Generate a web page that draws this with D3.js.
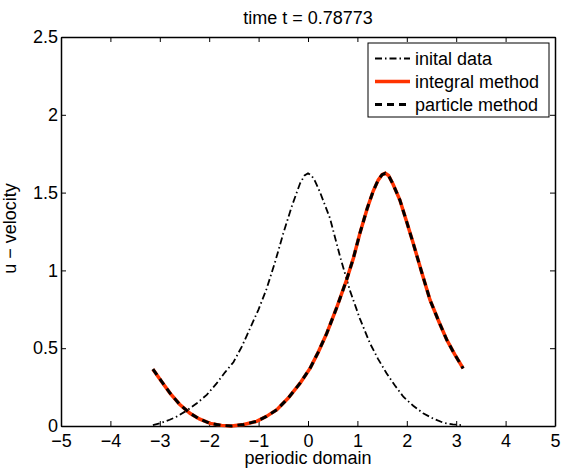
<!DOCTYPE html>
<html>
<head>
<meta charset="utf-8">
<script src="https://cdn.jsdelivr.net/npm/d3@7"></script>
<style>
  body { margin: 0; background: #fff; }
  svg { display: block; font-family: 'Liberation Sans', Arial, Helvetica, sans-serif; }
  .axis text { font-size: 18px; fill: #000; }
  .axis line, .axis path { stroke: #000; }
</style>
</head>
<body>
<svg id="chart" width="561" height="470"></svg>
<script>
'use strict';

// values
const titleText = 'time t = 0.78773';
const xLabel = 'periodic domain';
const yLabel = 'u \u2212 velocity';
const xTicks = [-5, -4, -3, -2, -1, 0, 1, 2, 3, 4, 5];
const yTicks = [0, 0.5, 1, 1.5, 2, 2.5];
const legendNames = ['inital data', 'integral method', 'particle method'];

const initialX = [-3.14, -3.0, -2.8, -2.66, -2.45, -2.25, -2.05, -1.85, -1.68, -1.51, -1.34, -1.17, -1.0, -0.84,
  -0.67, -0.5, -0.33, -0.16, -0.07, 0.0, 0.07, 0.14, 0.24, 0.445, 0.65, 0.85, 1.05, 1.255, 1.42, 1.59, 1.76,
  1.93, 2.13, 2.33, 2.53, 2.74, 2.93, 3.14];
const initialU = [0.005, 0.017, 0.04, 0.06, 0.1, 0.146, 0.2, 0.274, 0.345, 0.41, 0.51, 0.63, 0.75, 0.88,
  1.05, 1.238, 1.41, 1.56, 1.61, 1.624, 1.61, 1.575, 1.505, 1.335, 1.088, 0.87, 0.69, 0.531, 0.43, 0.339, 0.26,
  0.188, 0.13, 0.082, 0.048, 0.021, 0.01, 0.005];

const methodX = [-3.14, -2.95, -2.79, -2.6, -2.39, -2.2, -1.98, -1.75, -1.55, -1.3, -1.04, -0.84, -0.63, -0.4,
  -0.16, 0.04, 0.2, 0.38, 0.58, 0.78, 0.92, 1.05, 1.2, 1.32, 1.42, 1.5, 1.565, 1.63, 1.72, 1.86, 2.0, 2.13,
  2.3, 2.47, 2.65, 2.81, 2.97, 3.14];
const integralU = [0.365, 0.28, 0.21, 0.14, 0.082, 0.045, 0.017, 0.004, 0.0, 0.01, 0.03, 0.062, 0.105, 0.18,
  0.275, 0.37, 0.47, 0.596, 0.76, 0.938, 1.08, 1.238, 1.4, 1.51, 1.58, 1.615, 1.624, 1.61, 1.555, 1.452, 1.31,
  1.174, 0.99, 0.81, 0.67, 0.553, 0.46, 0.37];
const particleU = [0.365, 0.28, 0.21, 0.14, 0.082, 0.045, 0.017, 0.004, 0.0, 0.01, 0.03, 0.062, 0.105, 0.18,
  0.275, 0.37, 0.47, 0.596, 0.76, 0.938, 1.08, 1.238, 1.4, 1.51, 1.58, 1.615, 1.624, 1.61, 1.555, 1.452, 1.31,
  1.174, 0.99, 0.81, 0.67, 0.553, 0.46, 0.37];

const width = 561;
const height = 470;
const margin = { top: 37, right: 6, bottom: 44, left: 61 };
const plotW = width - margin.left - margin.right;
const plotH = height - margin.top - margin.bottom;

// line styles for the three series
const styles = [
  { color: '#000', width: 1.8, dash: '7,3,1.5,3' },
  { color: '#ff3300', width: 3.5, dash: null },
  { color: '#000', width: 3, dash: '7,5' }
];

const svg = d3.select('#chart');
const g = svg.append('g').attr('transform', `translate(${margin.left},${margin.top})`);

const x = d3.scaleLinear().domain([-5, 5]).range([0, plotW]);
const y = d3.scaleLinear().domain([0, 2.5]).range([plotH, 0]);

//Axes, MATLAB style with inward ticks on all four sides
g.append('g')
  .attr('class', 'axis')
  .attr('transform', `translate(0,${plotH})`)
  .call(d3.axisBottom(x).tickValues(xTicks).tickSizeInner(-5).tickSizeOuter(0).tickPadding(8));
g.append('g')
  .attr('class', 'axis')
  .call(d3.axisLeft(y).tickValues(yTicks).tickSizeInner(-5).tickSizeOuter(0).tickPadding(3)
    .tickFormat(d3.format('')));
g.append('g')
  .attr('class', 'axis')
  .call(d3.axisTop(x).tickValues(xTicks).tickSizeInner(-5).tickSizeOuter(0).tickFormat(''));
g.append('g')
  .attr('class', 'axis')
  .attr('transform', `translate(${plotW},0)`)
  .call(d3.axisRight(y).tickValues(yTicks).tickSizeInner(-5).tickSizeOuter(0).tickFormat(''));

g.selectAll('.axis path').attr('stroke-width', 1.5);
g.selectAll('.axis line').attr('stroke-width', 1);
g.selectAll('.axis text').attr('font-family', null).attr('font-size', null);

//Curves
const line = d3.line().x(d => x(d[0])).y(d => y(d[1]));
const series = [
  d3.zip(initialX, initialU),
  d3.zip(methodX, integralU),
  d3.zip(methodX, particleU)
];

series.forEach((data, i) => {
  g.append('path')
    .datum(data)
    .attr('d', line)
    .attr('fill', 'none')
    .attr('stroke', styles[i].color)
    .attr('stroke-width', styles[i].width)
    .attr('stroke-dasharray', styles[i].dash);
});

//Title and labels
svg.append('text')
  .attr('x', margin.left + plotW / 2)
  .attr('y', 24)
  .attr('text-anchor', 'middle')
  .attr('font-size', 18)
  .text(titleText);

svg.append('text')
  .attr('x', margin.left + plotW / 2)
  .attr('y', 464)
  .attr('text-anchor', 'middle')
  .attr('font-size', 18)
  .text(xLabel);

svg.append('text')
  .attr('transform', `translate(16,${margin.top + plotH / 2 - 3}) rotate(-90)`)
  .attr('text-anchor', 'middle')
  .attr('font-size', 18)
  .text(yLabel);

//Legend
const legend = svg.append('g').attr('transform', 'translate(368,43)');
legend.append('rect')
  .attr('width', 181)
  .attr('height', 74)
  .attr('fill', '#fff')
  .attr('stroke', '#000')
  .attr('stroke-width', 1);

legendNames.forEach((name, i) => {
  const rowY = 15.5 + i * 23;
  legend.append('line')
    .attr('x1', 7)
    .attr('x2', 42)
    .attr('y1', rowY)
    .attr('y2', rowY)
    .attr('stroke', styles[i].color)
    .attr('stroke-width', styles[i].width)
    .attr('stroke-dasharray', styles[i].dash);
  legend.append('text')
    .attr('x', 47)
    .attr('y', rowY)
    .attr('dy', '0.35em')
    .attr('font-size', 18)
    .text(name);
});
</script>
</body>
</html>
